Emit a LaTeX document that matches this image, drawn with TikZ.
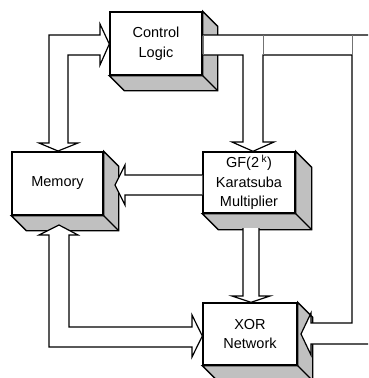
\documentclass[tikz,border=0pt]{standalone}
\usepackage{fontspec}
\setmainfont{Liberation Sans}
\definecolor{shade}{RGB}{192,192,192}
\newcommand\cubeshade[2]{%
  \draw[side] (#1.north east) -- ++(#2,#2) -- ($(#1.south east)+(#2,#2)$) -- ($(#1.south west)+(#2,#2)$) -- (#1.south west) -- (#1.south east) -- cycle;
  \draw[side] (#1.south east) -- ++(#2,#2);
}
\usetikzlibrary{calc}
\begin{document}
\begin{tikzpicture}[x=1pt,y=-1pt,
  front/.style={draw, line width=1.4pt, fill=white, inner sep=0pt, align=center,
    font=\fontsize{14.5}{19.5}\selectfont},
  side/.style={draw, line width=1.4pt, fill=shade, line join=miter},
  bus/.style={draw, line width=1.2pt, fill=white, line join=miter},
  ghost/.style={draw=black!55, line width=0.5pt}]
\useasboundingbox (0,0) rectangle (368,378);
\clip (0,0) rectangle (368,378);
% blocks
\node[front, minimum width=92pt, minimum height=63pt] (ctrl) at (156,43.5) {Control\\Logic};
\node[front, minimum width=91pt, minimum height=63pt] (mem) at (57.5,183.5) {Memory};
\node[front, minimum width=92pt, minimum height=61pt] (gf) at (249,182.5) {GF(2\,\textsuperscript{k})\\Karatsuba\\Multiplier};
\node[front, minimum width=94pt, minimum height=62pt] (xor) at (250,334) {XOR\\Network};
\cubeshade{ctrl}{15}
\cubeshade{mem}{15}
\cubeshade{gf}{16}
\cubeshade{xor}{15}
% Control <-> Memory
\draw[bus] (49,35) -- (100,35) -- (100,24) -- (ctrl.west |- 0,44) -- (100,65) -- (100,55)
  -- (68,55) -- (68,143) -- (78,143) -- (58,151) -- (39,143) -- (49,143) -- cycle;
% Memory <-> XOR
\draw[bus] (49,347) -- (49,235) -- (39,235) -- (59,225) -- (78,235) -- (69,235) -- (69,327)
  -- (192,327) -- (192,315) -- (xor.west |- 0,336) -- (192,357) -- (192,347) -- cycle;
% GF -> Memory
\draw[bus] (gf.west |- 0,175) -- (125,175) -- (125,165) -- (115,185) -- (125,205) -- (125,195) -- (gf.west |- 0,195);
% GF -> XOR
\draw[bus] (243,228) -- (243,296) -- (232,296) -- (xor.north -| 251,0) -- (270,296) -- (259,296) -- (259,228);
% Control -> GF and Control -> XOR
\draw[bus] (202,35) -- (380,35) -- (380,344) -- (311,344) -- (311,355) -- (301,334) -- (311,313)
  -- (311,323) -- (352,323) -- (352,55) -- (263,55) -- (263,142) -- (274,142) -- (gf.north -| 253,0)
  -- (232,142) -- (243,142) -- (243,55) -- (202,55) -- cycle;
\draw[ghost] (203,35) -- (203,55);
\draw[ghost] (263,35) -- (263,55);
\draw[ghost] (352,35) -- (352,55);
\end{tikzpicture}
\end{document}
